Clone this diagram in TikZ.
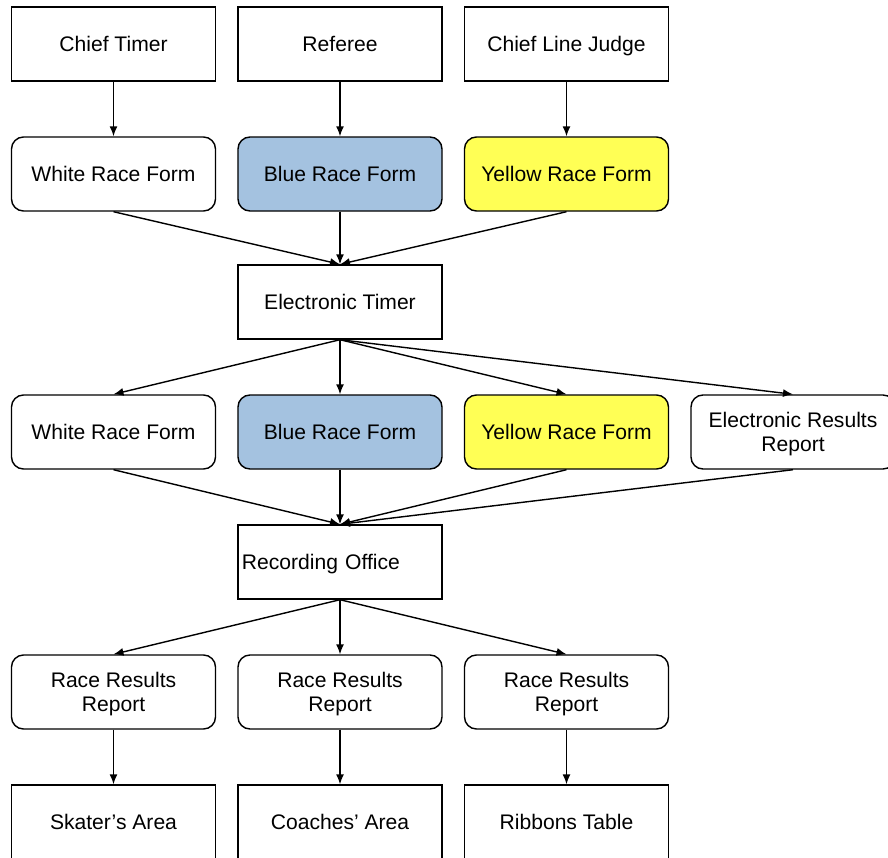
\documentclass[tikz,border=0pt]{standalone}
\usepackage{fontspec}
\setmainfont{Liberation Sans}
\usetikzlibrary{arrows.meta}

\definecolor{formblue}{RGB}{164,194,224}
\definecolor{formyellow}{RGB}{255,255,85}

\begin{document}
\begin{tikzpicture}[x=0.03cm, y=-0.03cm,
    box/.style={draw, line width=1.2pt, minimum width=6.12cm, minimum height=2.22cm,
        inner sep=0pt, text depth=0pt, align=center, font=\fontsize{18}{20.5}\selectfont},
    form/.style={box, rounded corners=0.36cm},
    link/.style={line width=1.2pt, -{Latex[length=0.3cm, width=0.24cm]}}]

    % FRAME
    \path[use as bounding box, clip] (0,0) rectangle (888,857);

    % OFFICIALS
    \node[box] (timer) at (113.5,44) {Chief Timer};
    \node[box] (referee) at (340,44) {Referee};
    \node[box] (judge) at (566.5,44) {Chief Line Judge};

    % FIRST RACE FORMS
    \node[form] (white1) at (113.5,174) {White Race Form};
    \node[form, fill=formblue] (blue1) at (340,174) {Blue Race Form};
    \node[form, fill=formyellow] (yellow1) at (566.5,174) {Yellow Race Form};

    % ELECTRONIC TIMER
    \node[box] (etimer) at (340,302) {Electronic Timer};

    % SECOND RACE FORMS
    \node[form] (white2) at (113.5,432) {White Race Form};
    \node[form, fill=formblue] (blue2) at (340,432) {Blue Race Form};
    \node[form, fill=formyellow] (yellow2) at (566.5,432) {Yellow Race Form};
    \node[form] (eresults) at (793,432) {Electronic Results\\Report};

    % RECORDING OFFICE
    \node[box, text width=5.88cm, inner xsep=0.12cm, align=left] (office) at (340,562) {Recording Office};

    % RESULTS REPORTS
    \node[form] (report1) at (113.5,692) {Race Results\\Report};
    \node[form] (report2) at (340,692) {Race Results\\Report};
    \node[form] (report3) at (566.5,692) {Race Results\\Report};

    % DESTINATIONS
    \node[box] (skaters) at (113.5,822) {Skater’s Area};
    \node[box] (coaches) at (340,822) {Coaches’ Area};
    \node[box] (ribbons) at (566.5,822) {Ribbons Table};

    % CONNECTORS
    \draw[link] (timer) -- (white1);
    \draw[link] (referee) -- (blue1);
    \draw[link] (judge) -- (yellow1);

    \draw[link] (white1.south) -- (etimer.north);
    \draw[link] (blue1.south) -- (etimer.north);
    \draw[link] (yellow1.south) -- (etimer.north);

    \draw[link] (etimer.south) -- (white2.north);
    \draw[link] (etimer.south) -- (blue2.north);
    \draw[link] (etimer.south) -- (yellow2.north);
    \draw[link] (etimer.south) -- (eresults.north);

    \draw[link] (white2.south) -- (office.north);
    \draw[link] (blue2.south) -- (office.north);
    \draw[link] (yellow2.south) -- (office.north);
    \draw[link] (eresults.south) -- (office.north);

    \draw[link] (office.south) -- (report1.north);
    \draw[link] (office.south) -- (report2.north);
    \draw[link] (office.south) -- (report3.north);

    \draw[link] (report1) -- (skaters);
    \draw[link] (report2) -- (coaches);
    \draw[link] (report3) -- (ribbons);

\end{tikzpicture}
\end{document}
